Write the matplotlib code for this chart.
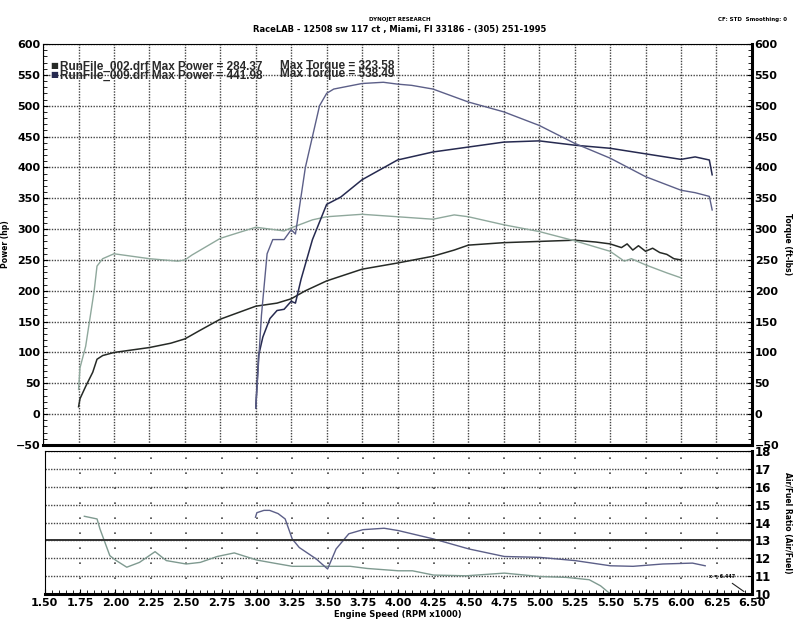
import matplotlib.pyplot as plt
import numpy as np
from matplotlib.ticker import MultipleLocator

# run 002 (starts at 1.75k rpm)
rpm_p002 = [1.75, 1.76, 1.80, 1.85, 1.88, 1.92, 2.00, 2.25, 2.40, 2.50, 2.60, 2.75, 3.00, 3.15, 3.25,
            3.35, 3.50, 3.75, 4.00, 4.25, 4.40, 4.50, 4.75, 5.00, 5.25, 5.40, 5.50, 5.58, 5.62,
            5.66, 5.70, 5.75, 5.80, 5.85, 5.90, 5.95, 6.00]
pow_002 = [12, 25, 45, 68, 89, 95, 100, 108, 115, 122, 135, 154, 175, 180, 187,
           200, 216, 235, 245, 256, 266, 274, 278, 280, 282, 279, 276, 270, 276,
           266, 273, 264, 269, 262, 259, 252, 250]
rpm_t002 = [1.75, 1.76, 1.80, 1.84, 1.86, 1.88, 1.92, 2.00, 2.25, 2.45, 2.50, 2.55, 2.75, 3.00, 3.20,
            3.25, 3.40, 3.50, 3.75, 4.00, 4.25, 4.40, 4.50, 4.75, 5.00, 5.25, 5.50, 5.60, 5.65,
            5.75, 5.90, 6.00]
trq_002 = [40, 75, 110, 170, 200, 240, 252, 260, 252, 248, 250, 258, 285, 303, 297,
           302, 315, 320, 324, 320, 316, 323, 320, 307, 296, 281, 264, 248, 252,
           242, 229, 221]

# run 009 (starts at 3.0k rpm)
rpm_p009 = [3.00, 3.02, 3.05, 3.10, 3.15, 3.20, 3.25, 3.28, 3.32, 3.40, 3.50, 3.60, 3.75, 4.00,
            4.25, 4.50, 4.75, 5.00, 5.25, 5.50, 5.75, 6.00, 6.10, 6.20, 6.22]
pow_009 = [10, 95, 125, 155, 168, 170, 183, 180, 219, 283, 340, 352, 380, 412,
           425, 433, 441, 443, 436, 431, 422, 413, 417, 412, 388]
rpm_t009 = [3.00, 3.04, 3.08, 3.12, 3.20, 3.25, 3.28, 3.35, 3.45, 3.50, 3.55, 3.75, 3.90, 4.00,
            4.10, 4.25, 4.50, 4.75, 5.00, 5.25, 5.50, 5.75, 6.00, 6.10, 6.20, 6.22]
trq_009 = [10, 160, 260, 283, 283, 299, 292, 400, 500, 520, 527, 536, 538, 535,
           533, 527, 506, 490, 468, 439, 415, 385, 363, 359, 353, 331]

# air/fuel ratio
rpm_afr002 = [1.78, 1.87, 1.89, 1.96, 2.00, 2.08, 2.17, 2.28, 2.36, 2.50, 2.60, 2.72, 2.84, 3.00,
              3.12, 3.25, 3.54, 3.66, 3.78, 4.00, 4.10, 4.25, 4.48, 4.75, 5.00, 5.19, 5.35,
              5.43, 5.50]
afr_002 = [14.35, 14.2, 13.65, 12.15, 11.9, 11.5, 11.77, 12.37, 11.87, 11.68, 11.77, 12.1, 12.3, 11.9,
           11.73, 11.55, 11.55, 11.55, 11.43, 11.3, 11.3, 11.06, 11.02, 11.17, 10.98, 10.93, 10.8,
           10.46, 10.0]
rpm_afr009 = [2.99, 3.00, 3.05, 3.09, 3.15, 3.20, 3.25, 3.30, 3.42, 3.50, 3.56, 3.65, 3.75, 3.90,
              4.00, 4.25, 4.50, 4.75, 5.00, 5.25, 5.50, 5.66, 5.87, 6.08, 6.17]
afr_009 = [14.3, 14.55, 14.68, 14.68, 14.5, 14.2, 13.08, 12.6, 11.96, 11.4, 12.52, 13.37, 13.6, 13.68,
           13.55, 13.08, 12.52, 12.1, 12.05, 11.87, 11.58, 11.55, 11.68, 11.73, 11.58]

legend_runs = ['RunFile_002.drf Max Power = 284.37', 'RunFile_009.drf Max Power = 441.98']
legend_torque = ['Max Torque = 323.58', 'Max Torque = 538.49']

c_p002 = '#262a26'
c_t002 = '#8fa89c'
c_p009 = '#262a50'
c_t009 = '#5c5f88'

fig = plt.figure(figsize=(7.99, 6.28), dpi=100)
ax = fig.add_axes([0.054, 0.2914, 0.887, 0.6385])
ax2 = fig.add_axes([0.056, 0.0541, 0.885, 0.2277])

grid = dict(color='#444444', linestyle=(0, (1, 1)), linewidth=1.0)

# top panel
ax.plot(rpm_p002, pow_002, color=c_p002, lw=1.1)
ax.plot(rpm_t002, trq_002, color=c_t002, lw=1.0)
ax.plot(rpm_p009, pow_009, color=c_p009, lw=1.1)
ax.plot(rpm_t009, trq_009, color=c_t009, lw=1.0)
ax.set_xlim(1.5, 6.5)
ax.set_ylim(-50, 600)
ax.set_xticks(np.arange(1.5, 6.51, 0.25))
ax.set_yticks(np.arange(-50, 601, 50))
ax.yaxis.set_minor_locator(MultipleLocator(10))
ax.grid(True, **grid)
ax.tick_params(axis='x', labelbottom=False, length=0)
ax.tick_params(axis='y', which='both', direction='in', right=True, labelright=True,
               labelsize=8, pad=2)
ax.tick_params(axis='y', which='minor', length=3)
for lbl in ax.get_yticklabels():
    lbl.set_fontweight('bold')
for s in ['bottom', 'right']:
    ax.spines[s].set_linewidth(2.2)
ax.set_ylabel('Power (hp)', fontsize=5.5, fontweight='bold', labelpad=4)
ax.text(1.05, 0.5, 'Torque (ft-lbs)', transform=ax.transAxes, rotation=-90,
        fontsize=5.5, fontweight='bold', va='center', ha='center')

leg_font = dict(family=['Liberation Sans', 'DejaVu Sans'], fontsize=8.5, fontweight='bold',
                color='#2a2a2a', va='center')
for i, (c, y) in enumerate([(c_p002, 565), (c_p009, 551)]):
    ax.text(1.548, y, '■', color=c, fontsize=6, va='center')
    ax.text(1.62, y - 2, legend_runs[i], **leg_font)
    ax.text(3.17, y, legend_torque[i], **leg_font)

# bottom panel
ax2.plot(rpm_afr002, afr_002, color='#7f9a90', lw=1.0)
ax2.plot(rpm_afr009, afr_009, color=c_t009, lw=1.0)
ax2.axhline(13, color='#333333', lw=1.4)
ax2.set_xlim(1.5, 6.5)
ax2.set_ylim(10, 18)
ax2.set_xticks(np.arange(1.5, 6.51, 0.25))
ax2.set_xticklabels(['%.2f' % v for v in np.arange(1.5, 6.51, 0.25)], fontsize=8, fontweight='bold')
ax2.set_yticks(np.arange(10, 19, 1))
ax2.xaxis.set_minor_locator(MultipleLocator(0.05))
ax2.yaxis.grid(True, **grid)
ax2.xaxis.grid(True, color='#444444', linestyle=(0, (1, 8)), linewidth=1.2)
ax2.tick_params(axis='y', left=False, labelleft=False, right=True, labelright=True,
                direction='in', labelsize=8.5, pad=2)
ax2.tick_params(axis='x', which='both', direction='in', pad=3)
ax2.tick_params(axis='x', which='minor', length=3)
for lbl in ax2.get_yticklabels():
    lbl.set_fontweight('bold')
for s in ['bottom', 'right']:
    ax2.spines[s].set_linewidth(2.2)
ax2.set_xlabel('Engine Speed (RPM x1000)', fontsize=6, fontweight='bold', labelpad=1)
ax2.text(1.05, 0.5, 'Air/Fuel Ratio (Air/Fuel)', transform=ax2.transAxes, rotation=-90,
         fontsize=5.5, fontweight='bold', va='center', ha='center')
ax2.annotate('x = 6.447', xy=(6.46, 10.05), xytext=(6.2, 10.9), fontsize=3.5, fontweight='bold',
             arrowprops=dict(arrowstyle='-', color='#222222', lw=0.8))

# header
fig.text(0.5, 0.966, 'DYNOJET RESEARCH', fontsize=4, fontweight='bold', ha='center')
fig.text(0.5, 0.949, 'RaceLAB - 12508 sw 117 ct , Miami, Fl 33186 - (305) 251-1995', fontsize=6,
         fontweight='bold', ha='center')
fig.text(0.985, 0.966, 'CF: STD  Smoothing: 0', fontsize=4, fontweight='bold', ha='right')

fig.savefig('out.png', dpi=100)
